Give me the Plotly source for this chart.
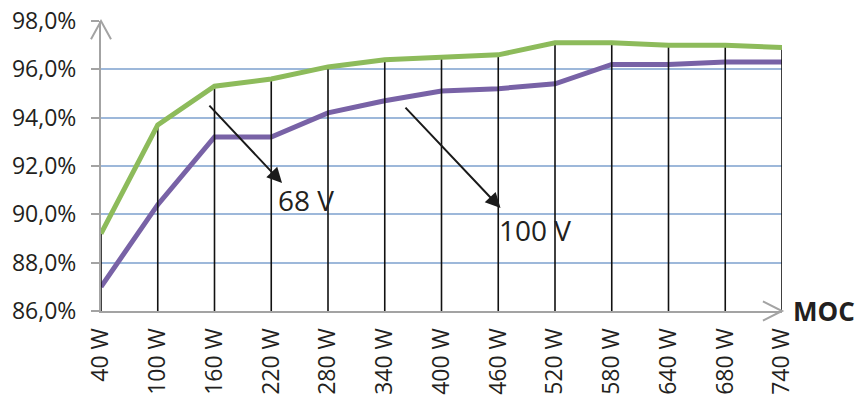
import plotly.graph_objects as go

# Output power steps (x categories)
power_labels = ["40 W", "100 W", "160 W", "220 W", "280 W", "340 W", "400 W",
                "460 W", "520 W", "580 W", "640 W", "680 W", "740 W"]

# Efficiency, % at 68 V input
eff_68v = [89.2, 93.7, 95.3, 95.6, 96.1, 96.4, 96.5, 96.6, 97.1, 97.1, 97.0, 97.0, 96.9]
# Efficiency, % at 100 V input
eff_100v = [87.0, 90.4, 93.2, 93.2, 94.2, 94.7, 95.1, 95.2, 95.4, 96.2, 96.2, 96.3, 96.3]

y_ticks = [86, 88, 90, 92, 94, 96, 98]
y_tick_text = ["86,0%", "88,0%", "90,0%", "92,0%", "94,0%", "96,0%", "98,0%"]
y_min, y_max = 86, 98

GREEN = "#8dbb5b"
PURPLE = "#7862a6"
GRID = "#9db8da"
AXIS = "#a3a3a3"
TEXT = "#231f20"
FONT = "Open Sans"

idx = list(range(len(power_labels)))

# Drop lines from the upper curve to the category axis
drop_x, drop_y = [], []
for i, v in zip(idx, eff_68v):
    drop_x += [i, i, None]
    drop_y += [y_min, v, None]

fig = go.Figure()
fig.add_trace(go.Scatter(x=idx, y=eff_100v, mode="lines",
                         line=dict(color=PURPLE, width=5), hoverinfo="skip"))
fig.add_trace(go.Scatter(x=drop_x, y=drop_y, mode="lines",
                         line=dict(color="#111111", width=1.6), hoverinfo="skip"))
fig.add_trace(go.Scatter(x=idx, y=eff_68v, mode="lines",
                         line=dict(color=GREEN, width=5), hoverinfo="skip"))

# Series callouts
callouts = [
    dict(text="68 V", tail=(1.885, 94.56), head=(3.19, 91.3), label=(3.08, 90.6)),
    dict(text="100 V", tail=(5.34, 94.48), head=(7.04, 90.26), label=(6.98, 89.35)),
]
for c in callouts:
    fig.add_annotation(x=c["head"][0], y=c["head"][1], ax=c["tail"][0], ay=c["tail"][1],
                       xref="x", yref="y", axref="x", ayref="y", text="",
                       showarrow=True, arrowhead=2, arrowsize=1.5, arrowwidth=2,
                       arrowcolor="#1a1a1a")
    fig.add_annotation(x=c["label"][0], y=c["label"][1], xref="x", yref="y",
                       text=c["text"], showarrow=False, xanchor="left", yanchor="middle",
                       font=dict(family=FONT, size=28, color=TEXT))

fig.add_annotation(x=1.0, y=0, xref="paper", yref="paper", text="<b>MOC</b>",
                   showarrow=False, xanchor="left", yanchor="middle", xshift=9,
                   font=dict(family=FONT, size=26, color=TEXT))

# Open chevron heads on both axes
fig.add_shape(type="path", xref="paper", yref="paper",
              path="M -0.0147,0.937 L 0,1 L 0.0147,0.937",
              line=dict(color=AXIS, width=2))
fig.add_shape(type="path", xref="paper", yref="paper",
              path="M 0.972,0.033 L 1,0 L 0.972,-0.033",
              line=dict(color=AXIS, width=2))

fig.update_xaxes(
    range=[0, len(power_labels) - 1], automargin=False,
    tickmode="array", tickvals=idx, ticktext=power_labels,
    tickangle=-90, ticks="", showgrid=False, zeroline=False,
    showline=True, linecolor=AXIS, linewidth=2,
    ticklabelstandoff=6,
    tickfont=dict(family=FONT, size=23, color=TEXT),
)
fig.update_yaxes(
    range=[y_min, y_max], automargin=False,
    tickmode="array", tickvals=y_ticks, ticktext=y_tick_text,
    showgrid=True, gridcolor=GRID, gridwidth=1.5, zeroline=False,
    showline=True, linecolor=AXIS, linewidth=2,
    ticks="outside", ticklen=8, tickcolor=AXIS, tickwidth=1.5,
    ticklabelstandoff=10,
    tickfont=dict(family=FONT, size=23, color=TEXT),
)

fig.update_layout(
    width=859, height=395,
    margin=dict(l=101, r=77, t=21, b=84),
    paper_bgcolor="white", plot_bgcolor="white",
    showlegend=False,
)

fig.write_html("out.html")
